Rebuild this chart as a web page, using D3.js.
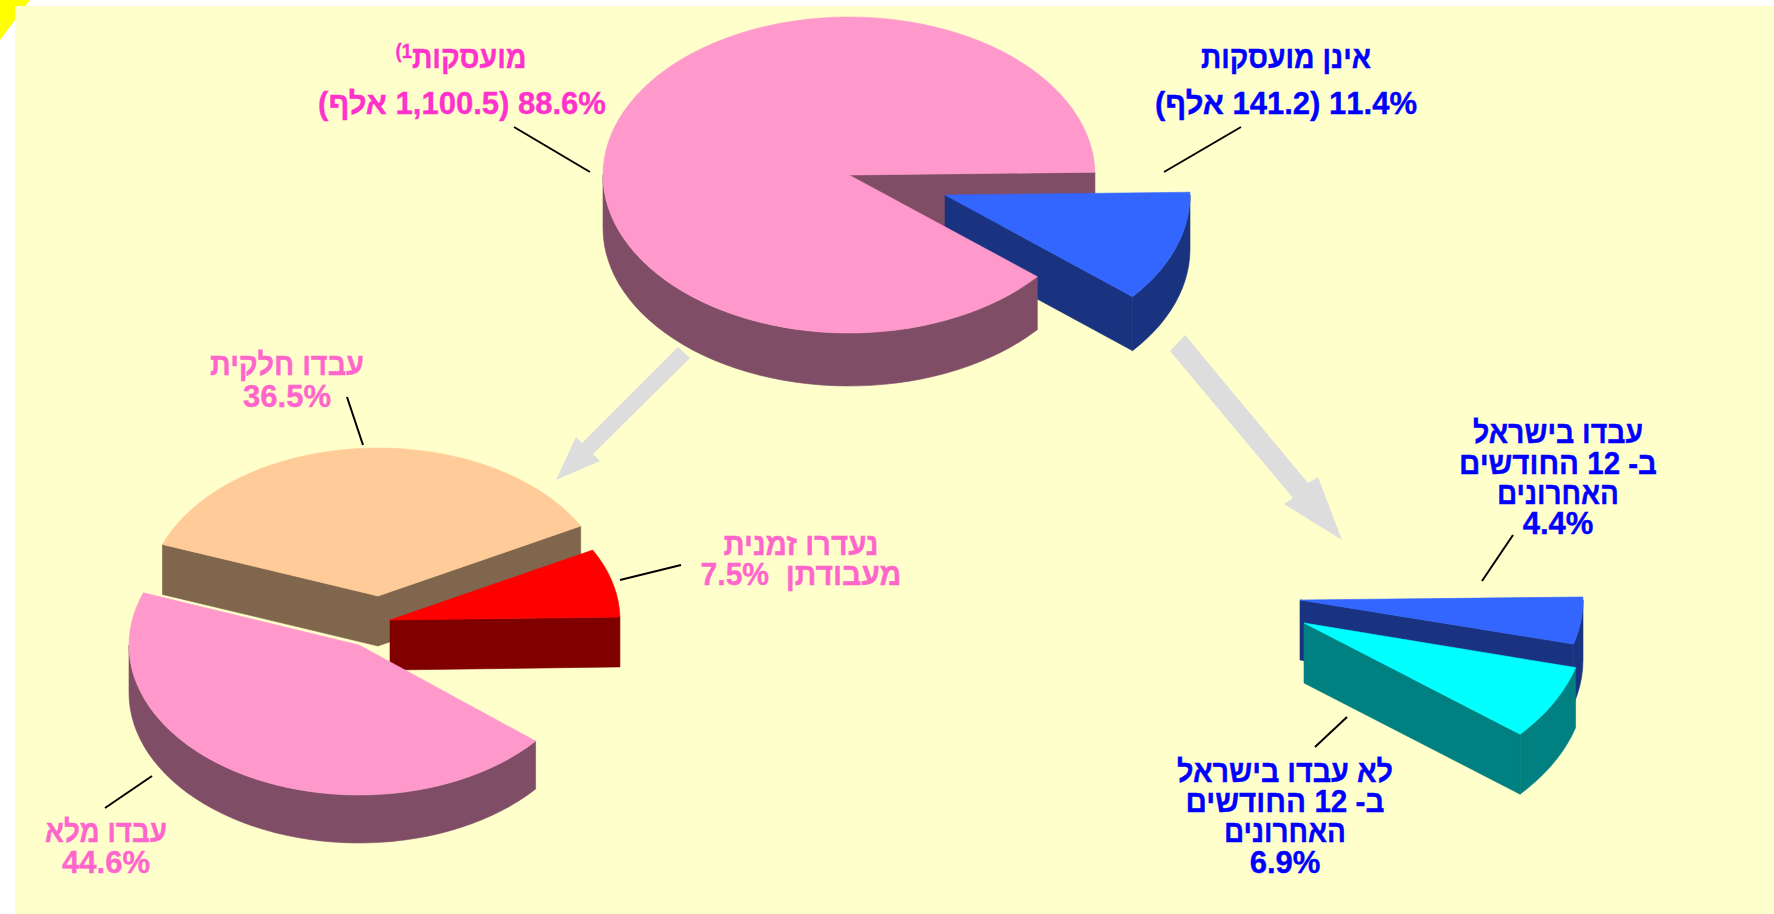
<!DOCTYPE html>
<html lang="he">
<head>
<meta charset="utf-8">
<script src="https://cdn.jsdelivr.net/npm/d3@7"></script>
<style>
  html, body { margin: 0; padding: 0; background: #fff; overflow: hidden; }
  text { font-family: "Liberation Sans", Arial, sans-serif; font-weight: bold; font-size: 31px; direction: rtl; text-anchor: middle; white-space: pre; stroke-width: 0.4px; }
</style>
</head>
<body>
<div id="chart"></div>
<script>
// values, percent of all. "hidden" slices are only there to leave the gap in the pie
var topValues = [11.4, 88.6];
var topNames = ["לא מועסקות", "מועסקות"];
var leftValues = [36.5, 7.5, 11.4, 44.6];
var leftNames = ["עבדו חלקית", "נעדרו זמנית", "hidden", "עבדו מלא"];
var rightValues = [4.4, 6.9, 88.6];
var rightNames = ["עבדו בישראל", "לא עבדו בישראל", "hidden"];

// label text, one array of lines per label
var labelEmployed = ["מועסקות", "88.6% (1,100.5 אלף)"];
var labelNotEmployed = ["אינן מועסקות", "11.4% (141.2 אלף)"];
var labelPartTime = ["עבדו חלקית", "36.5%"];
var labelAbsent = ["נעדרו זמנית", "מעבודתן  7.5%"];
var labelFullTime = ["עבדו מלא", "44.6%"];
var labelWorked = ["עבדו בישראל", "ב- 12 החודשים", "האחרונים", "4.4%"];
var labelNotWorked = ["לא עבדו בישראל", "ב- 12 החודשים", "האחרונים", "6.9%"];

var width = 1774, height = 914;
var deg = Math.PI / 180;

var svg = d3.select("#chart").append("svg")
  .attr("width", width)
  .attr("height", height)
  .style("display", "block");

// corner + background
svg.append("path").attr("d", "M0,0L30,0L0,40Z").attr("fill", "#ffff00");
svg.append("rect").attr("x", 15).attr("y", 6).attr("width", width - 15).attr("height", height - 6).attr("fill", "#ffffcc");

var line = d3.line();

function sliceParts(opts) {
  var x = d3.scaleLinear().domain([-1, 1]).range([opts.cx - opts.rx, opts.cx + opts.rx]);
  var y = d3.scaleLinear().domain([-1, 1]).range([opts.cy - opts.ry, opts.cy + opts.ry]);
  return {
    pt: function (a, drop) { return [x(Math.sin(a)), y(-Math.cos(a)) + (drop || 0)]; },
    center: [opts.cx, opts.cy],
    depth: opts.depth
  };
}

// outline of the rim, sampled a bit coarse like the original polygons
function arcPoints(p, a0, a1, drop) {
  var pts = [], n = Math.max(2, Math.ceil((a1 - a0) / (3 * deg)));
  for (var i = 0; i <= n; i++) pts.push(p.pt(a0 + (a1 - a0) * i / n, drop));
  return pts;
}

function poly(points, fill) {
  svg.append("path")
    .attr("d", line(points) + "Z")
    .attr("fill", fill)
    .attr("stroke", fill)
    .attr("stroke-width", 0.6);
}

function drawTop(arc, geo, c) {
  poly([geo.center].concat(arcPoints(geo, arc.startAngle, arc.endAngle, 0)), c.top);
}

function drawRadial(arc, geo, c) {
  var d = geo.depth, m = geo.center;
  [[arc.startAngle, Math.sin(arc.startAngle) < 0], [arc.endAngle, Math.sin(arc.endAngle) > 0]].forEach(function (w) {
    if (!w[1]) return;
    var e = geo.pt(w[0], 0);
    poly([m, e, [e[0], e[1] + d], [m[0], m[1] + d]], c.side);
  });
}

function drawOuter(arc, geo, c) {
  [0, 1].forEach(function (k) {
    var lo = Math.max(arc.startAngle, (90 + 360 * k) * deg);
    var hi = Math.min(arc.endAngle, (270 + 360 * k) * deg);
    if (hi <= lo) return;
    poly(arcPoints(geo, lo, hi, 0).concat(arcPoints(geo, lo, hi, geo.depth).reverse()), c.side);
  });
}

function angles(values, start) {
  return d3.pie().sort(null).startAngle(start * deg).endAngle((start + 360) * deg)(values);
}

var pink = {top: "#ff99cc", side: "#804d66"};
var blue = {top: "#3366ff", side: "#1a3380"};
var peach = {top: "#ffcc99", side: "#80664d"};
var red = {top: "#ff0000", side: "#800000"};
var cyan = {top: "#00ffff", side: "#008080"};

// upper pie
var topArcs = angles(topValues, 89);
var gPink = sliceParts({cx: 849, cy: 175, rx: 246, ry: 158, depth: 53});
var gBlue = sliceParts({cx: 945, cy: 195, rx: 245, ry: 158, depth: 54});
drawRadial(topArcs[1], gPink, pink);
drawRadial(topArcs[0], gBlue, blue);
drawOuter(topArcs[0], gBlue, blue);
drawTop(topArcs[0], gBlue, blue);
drawOuter(topArcs[1], gPink, pink);
drawTop(topArcs[1], gPink, pink);

// lower left pie
var leftArcs = angles(leftValues, 290.4);
var gPeach = sliceParts({cx: 378, cy: 596, rx: 230, ry: 148, depth: 50});
var gRed = sliceParts({cx: 390, cy: 620, rx: 230, ry: 148, depth: 50});
var gPink2 = sliceParts({cx: 359, cy: 645, rx: 230, ry: 150, depth: 48});
drawRadial(leftArcs[0], gPeach, peach);
drawOuter(leftArcs[0], gPeach, peach);
drawTop(leftArcs[0], gPeach, peach);
drawRadial(leftArcs[1], gRed, red);
drawOuter(leftArcs[1], gRed, red);
drawTop(leftArcs[1], gRed, red);
drawRadial(leftArcs[3], gPink2, pink);
drawOuter(leftArcs[3], gPink2, pink);
drawTop(leftArcs[3], gPink2, pink);

// lower right pie
var rightArcs = angles(rightValues, 89);
var gBlue2 = sliceParts({cx: 1300, cy: 600, rx: 283, ry: 172, depth: 60});
var gCyan = sliceParts({cx: 1304, cy: 623, rx: 281, ry: 174, depth: 60});
drawRadial(rightArcs[0], gBlue2, blue);
drawOuter(rightArcs[0], gBlue2, blue);
drawTop(rightArcs[0], gBlue2, blue);
drawRadial(rightArcs[1], gCyan, cyan);
drawOuter(rightArcs[1], gCyan, cyan);
drawTop(rightArcs[1], gCyan, cyan);

// grey arrows
function arrow(points) {
  svg.append("path").attr("d", line(points) + "Z").attr("fill", "#dddddd");
}
arrow([[678, 347], [690, 358], [593, 454], [600, 461], [556, 480], [576, 437], [582, 443]]);
arrow([[1185, 335], [1170, 351], [1293, 498], [1284, 504], [1342, 540], [1318, 477], [1308, 483]]);

// leader lines
var leaders = [
  [514, 127, 590, 172],
  [1241, 127, 1164, 172],
  [347, 397, 363, 445],
  [681, 565, 620, 580],
  [152, 776, 105, 808],
  [1513, 535, 1482, 581],
  [1347, 717, 1315, 747]
];
svg.selectAll("line.leader").data(leaders).enter().append("line")
  .attr("class", "leader")
  .attr("x1", function (d) { return d[0]; })
  .attr("y1", function (d) { return d[1]; })
  .attr("x2", function (d) { return d[2]; })
  .attr("y2", function (d) { return d[3]; })
  .attr("stroke", "#000")
  .attr("stroke-width", 2);

// the hebrew in the original is narrower than in Liberation, so squeeze to the measured width
function fitWidth(t, x, w) {
  if (!w) return;
  var k = w / t.node().getComputedTextLength();
  t.attr("transform", "translate(" + x + ",0) scale(" + k + ",1) translate(" + (-x) + ",0)");
}

function label(lines, x, ys, color, widths) {
  lines.forEach(function (s, i) {
    var t = svg.append("text").attr("x", x).attr("y", ys[i]).attr("fill", color).style("stroke", color).text(s);
    fitWidth(t, x, widths && widths[i]);
  });
}
label(labelNotEmployed, 1286, [68, 114], "#0000ff", [170, 0]);
label(labelPartTime, 287, [375, 407], "#ff66cc", [154, 0]);
label(labelAbsent, 801, [555, 585], "#ff66cc", [155, 201]);
label(labelFullTime, 106, [842, 873], "#ff66cc", [122, 0]);
label(labelWorked, 1558, [443, 474, 504, 534], "#0000ff", [170, 198, 122, 0]);
label(labelNotWorked, 1285, [782, 812, 842, 873], "#0000ff", [216, 199, 122, 0]);
label([labelEmployed[1]], 462, [114], "#ff33cc");

// first line here carries the footnote mark
var emp = svg.append("text").attr("x", 461).attr("y", 68).attr("fill", "#ff33cc").style("stroke", "#ff33cc");
emp.append("tspan").text(labelEmployed[0]);
emp.append("tspan").attr("dy", -10).style("font-size", "20px").text("1)");
fitWidth(emp, 461, 131);
</script>
</body>
</html>
